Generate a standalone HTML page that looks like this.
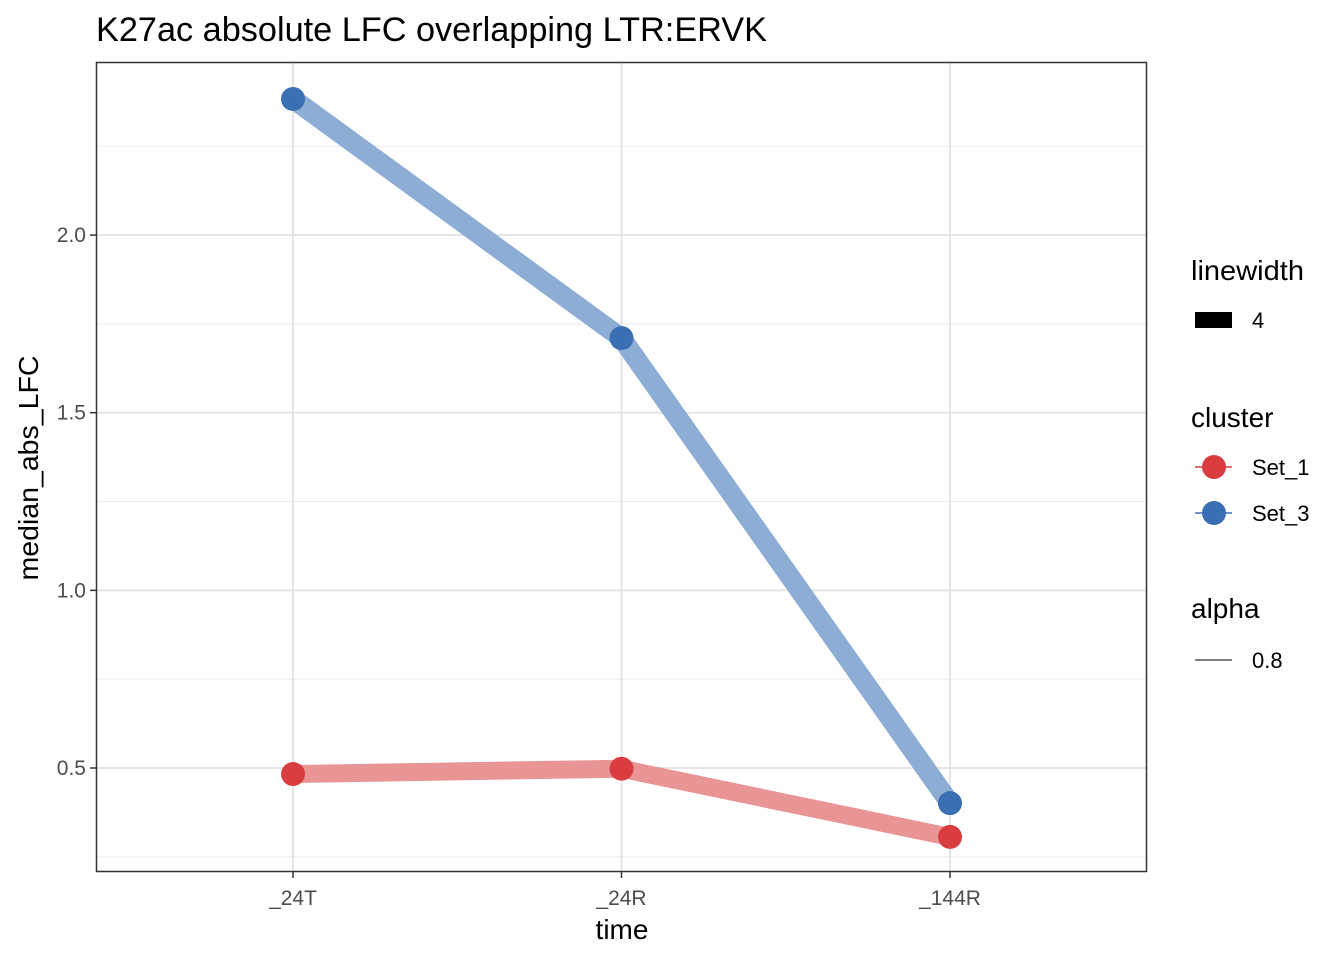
<!DOCTYPE html>
<html><head><meta charset="utf-8"><style>
body{margin:0;background:#fff}
svg{display:block;font-family:"Liberation Sans",Arial,sans-serif}
</style></head><body>
<svg id="chart" width="1344" height="960" xmlns="http://www.w3.org/2000/svg">
<rect width="1344" height="960" fill="#fff"/>
<text x="96" y="41" font-size="34" textLength="671" lengthAdjust="spacingAndGlyphs" fill="#000">K27ac absolute LFC overlapping LTR:ERVK</text>
<g id="grid"></g>
<g id="series"></g>
<rect x="96.5" y="62.5" width="1050" height="809" fill="none" stroke="#333" stroke-width="1.5"/>
<g id="axes"></g>
<text x="622" y="939" font-size="28" text-anchor="middle">time</text>
<text transform="translate(38,468) rotate(-90)" font-size="28" textLength="225" lengthAdjust="spacingAndGlyphs" text-anchor="middle">median_abs_LFC</text>
<g font-size="22">
<text x="1191" y="280" font-size="28" textLength="113" lengthAdjust="spacingAndGlyphs">linewidth</text>
<rect x="1195" y="312" width="37" height="16" fill="#000"/>
<text x="1252" y="328">4</text>
<text x="1191" y="427" font-size="28">cluster</text>
<g><line x1="1195" y1="467" x2="1232" y2="467" stroke="#DA3D3F" stroke-width="1.5"/><circle cx="1214" cy="467" r="12" fill="#DA3D3F"/><text x="1252" y="475">Set_1</text></g>
<g><line x1="1195" y1="513" x2="1232" y2="513" stroke="#3A6FB3" stroke-width="1.5"/><circle cx="1214" cy="513" r="12" fill="#3A6FB3"/><text x="1252" y="521">Set_3</text></g>
<text x="1191" y="618" font-size="28">alpha</text>
<line x1="1195" y1="660" x2="1232" y2="660" stroke="#555" stroke-width="1.5"/>
<text x="1252" y="668">0.8</text>
</g>
</svg>
<script>
const categories = ["_24T","_24R","_144R"];
const set1Values = [0.483, 0.498, 0.306];
const set3Values = [2.383, 1.710, 0.401];
const yTicks = [0.5, 1.0, 1.5, 2.0];
const yTickLabels = ["0.5","1.0","1.5","2.0"];
const yMinor = [0.25, 0.75, 1.25, 1.75, 2.25];
const NS="http://www.w3.org/2000/svg";
function xPos(i){return 293 + i*328.5;}
function yPos(v){return 768 - (v-0.5)*355.3;}
function mk(t,a,p){const e=document.createElementNS(NS,t);for(const k in a)e.setAttribute(k,a[k]);p.appendChild(e);return e;}
const grid=document.getElementById('grid'),ser=document.getElementById('series'),ax=document.getElementById('axes');
yMinor.forEach(v=>{const l=mk('line',{x1:97,x2:1146,y1:yPos(v),y2:yPos(v),stroke:'#ebebeb','stroke-width':1},grid);

});
yTicks.forEach((v,i)=>{const l=mk('line',{x1:97,x2:1146,y1:yPos(v),y2:yPos(v),stroke:'#e5e5e5','stroke-width':2},grid);


const t=mk('line',{x1:90,x2:96,y1:yPos(v),y2:yPos(v),stroke:'#333','stroke-width':1.5},ax);


const tx=mk('text',{x:86,y:yPos(v)+7,'font-size':21,'text-anchor':'end',fill:'#4d4d4d'},ax);tx.textContent=yTickLabels[i];

});
categories.forEach((c,i)=>{const l=mk('line',{x1:xPos(i),x2:xPos(i),y1:63,y2:871,stroke:'#e5e5e5','stroke-width':2},grid);


const t=mk('line',{x1:xPos(i),x2:xPos(i),y1:872,y2:878,stroke:'#333','stroke-width':1.5},ax);


const tx=mk('text',{x:xPos(i),y:905,'font-size':21,'text-anchor':'middle',fill:'#4d4d4d'},ax);tx.textContent=c;

});
function drawSeries(vals,lc,pc,w,name){
const pl=mk('polyline',{points:vals.map((v,i)=>xPos(i)+','+yPos(v)).join(' '),fill:'none',stroke:lc,'stroke-width':w,'stroke-linejoin':'round'},ser);


vals.forEach((v,i)=>{const c=mk('circle',{cx:xPos(i),cy:yPos(v),r:12,fill:pc},ser);

});}
drawSeries(set1Values,'#E99596','#DA3D3F',18,'set1');
drawSeries(set3Values,'#8DADD5','#3A6FB3',20,'set3');
</script>
</body></html>
